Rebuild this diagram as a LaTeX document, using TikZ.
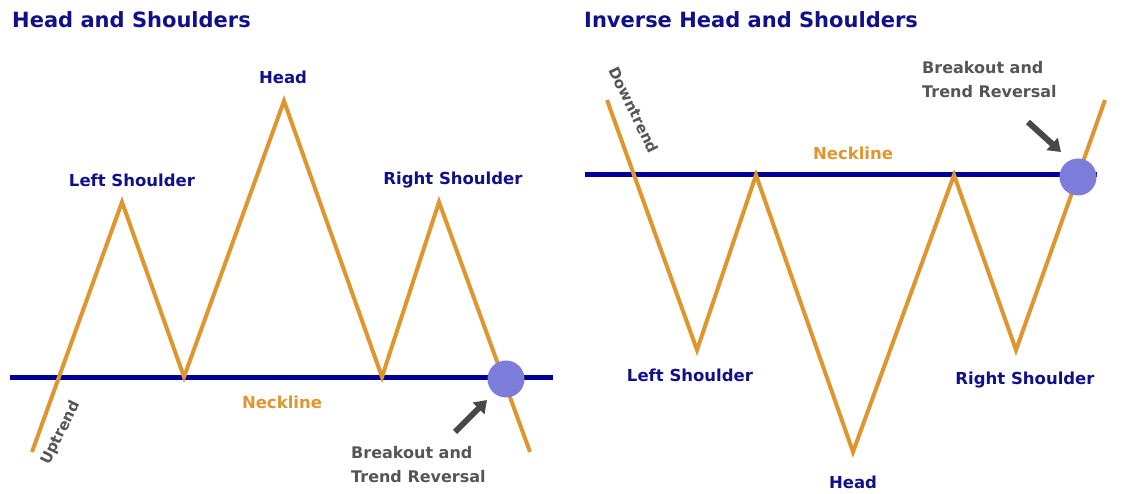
\documentclass[tikz,border=0pt]{standalone}
\usepackage{fontspec}
\setmainfont{DejaVu Sans}
\usetikzlibrary{arrows.meta}
\definecolor{navy}{HTML}{000099}
\definecolor{lbl}{HTML}{10108A}
\definecolor{trend}{HTML}{E0962E}
\definecolor{dot}{HTML}{7C7CDA}
\definecolor{txtgray}{HTML}{555555}
\tikzset{
  title/.style={font=\bfseries\fontsize{21}{24}\selectfont, text=lbl, anchor=west, inner sep=0},
  lab/.style={font=\bfseries\fontsize{16.5}{19}\selectfont, text=lbl, inner sep=0},
  orangelab/.style={font=\bfseries\fontsize{16.5}{19}\selectfont, text=trend, inner sep=0},
  graylab/.style={font=\bfseries\fontsize{16}{24}\selectfont, text=txtgray, inner sep=0, align=left},
  trendlab/.style={font=\bfseries\fontsize{15}{18}\selectfont, text=txtgray, inner sep=0},
  neck/.style={draw=navy, line width=5pt},
  price/.style={draw=trend, line width=4pt, line join=miter},
  breakdot/.style={circle, fill=dot, minimum size=37pt, inner sep=0},
  pointer/.style={draw=txtgray!85!black, line width=6pt, -{Triangle[length=12pt,width=16pt]}},
}
\begin{document}
\begin{tikzpicture}[x=1pt,y=-1pt]
\useasboundingbox (0,0) rectangle (1135,494);
% ---------- Left: Head and Shoulders ----------
\node[title] (t1) at (12,20) {Head and Shoulders};
\coordinate (nl1) at (10,377);
\coordinate (nr1) at (553,377);
\draw[neck] (nl1) -- (nr1);
\coordinate (a0) at (32,452);
\coordinate (a1) at (122,202);
\coordinate (a2) at (184,377);
\coordinate (a3) at (284,101);
\coordinate (a4) at (382,377);
\coordinate (a5) at (439,202);
\coordinate (a6) at (530,452);
\draw[price] (a0) -- (a1) -- (a2) -- (a3) -- (a4) -- (a5) -- (a6);
\node[breakdot] (b1) at (506,379) {};
\node[lab] (head1) at (283,77) {Head};
\node[lab] (ls1) at (132,180) {Left Shoulder};
\node[lab] (rs1) at (453,180) {Right Shoulder};
\node[orangelab] (nk1) at (282,402) {Neckline};
\node[trendlab, rotate=64] (up) at (61,433) {Uptrend};
\node[graylab, anchor=north west] (br1) at (351,446) {Breakout and\\Trend Reversal};
\coordinate (p1s) at (455,432);
\coordinate (p1e) at (487,400);
\draw[pointer] (p1s) -- (p1e);
% ---------- Right: Inverse Head and Shoulders ----------
\node[title] (t2) at (584,20) {Inverse Head and Shoulders};
\coordinate (nl2) at (585,175);
\coordinate (nr2) at (1097,175);
\draw[neck] (nl2) -- (nr2);
\coordinate (c0) at (607,100);
\coordinate (c1) at (697,350);
\coordinate (c2) at (756,175);
\coordinate (c3) at (853,452);
\coordinate (c4) at (954,175);
\coordinate (c5) at (1016,350);
\coordinate (c6) at (1105,100);
\draw[price] (c0) -- (c1) -- (c2) -- (c3) -- (c4) -- (c5) -- (c6);
\node[breakdot] (b2) at (1078,177) {};
\node[orangelab] (nk2) at (853,153) {Neckline};
\node[lab] (ls2) at (690,375) {Left Shoulder};
\node[lab] (head2) at (853,482) {Head};
\node[lab] (rs2) at (1025,380) {Right Shoulder};
\node[trendlab, rotate=-64] (down) at (634,110) {Downtrend};
\node[graylab, anchor=north west] (br2) at (922,61) {Breakout and\\Trend Reversal};
\coordinate (p2s) at (1028,122);
\coordinate (p2e) at (1061,152);
\draw[pointer] (p2s) -- (p2e);
\end{tikzpicture}
\end{document}
